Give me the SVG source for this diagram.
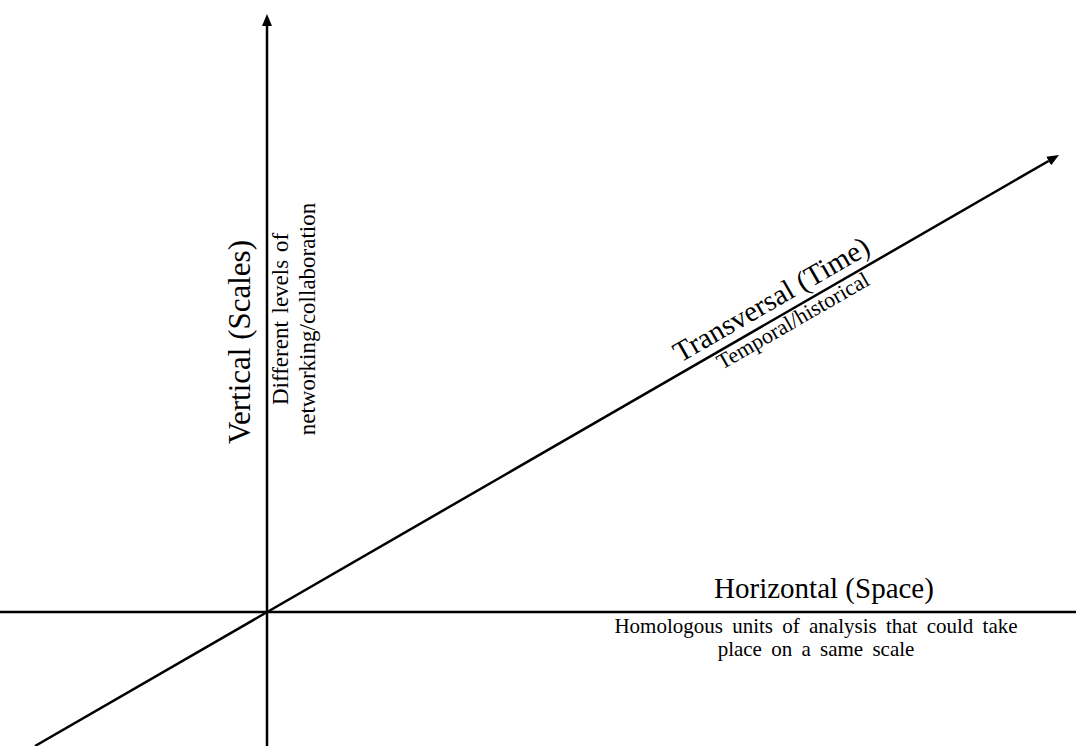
<svg xmlns="http://www.w3.org/2000/svg" width="1076" height="746" viewBox="0 0 1076 746">
<style>
.ax{stroke:#000;stroke-width:2.5;fill:none}
text{font-family:"Liberation Serif","Times New Roman",serif;fill:#000}
.big{font-size:29px}
.small{font-size:21px}
.vsub{font-size:23px}
</style>
<defs>
<marker id="arr" viewBox="0 0 12 10" markerWidth="12" markerHeight="10" refX="0" refY="5" orient="auto" markerUnits="userSpaceOnUse">
<path d="M0,0 L12,5 L0,10 z" fill="#000"/>
</marker>
</defs>
<rect width="1076" height="746" fill="#fff"/>
<g id="connectors">
<line class="ax" x1="0" y1="612" x2="1076" y2="612"/>
<line class="ax" x1="267" y1="746" x2="267" y2="26" marker-end="url(#arr)"/>
<line class="ax" x1="35" y1="746" x2="1048.6" y2="161" marker-end="url(#arr)"/>
</g>
<g id="vertical-label">
<text class="big" style="font-size:31px" text-anchor="middle" transform="translate(250,342) rotate(-90)">Vertical (Scales)</text>
<text class="vsub" text-anchor="middle" transform="translate(288,319) rotate(-90)" word-spacing="2">Different levels of</text>
<text class="vsub" text-anchor="middle" transform="translate(315,319) rotate(-90)">networking/collaboration</text>
</g>
<g id="horizontal-label">
<text class="big" x="824" y="598" text-anchor="middle">Horizontal (Space)</text>
<text class="small" x="816" y="633" text-anchor="middle" word-spacing="4">Homologous units of analysis that could take</text>
<text class="small" x="816" y="656" text-anchor="middle" word-spacing="4">place on a same scale</text>
</g>
<g id="transversal-label" transform="translate(267,612) rotate(-30)">
<text class="big" x="593" y="-9" text-anchor="middle">Transversal (Time)</text>
<text class="small" style="font-size:22px" x="601" y="18" text-anchor="middle">Temporal/historical</text>
</g>
</svg>
